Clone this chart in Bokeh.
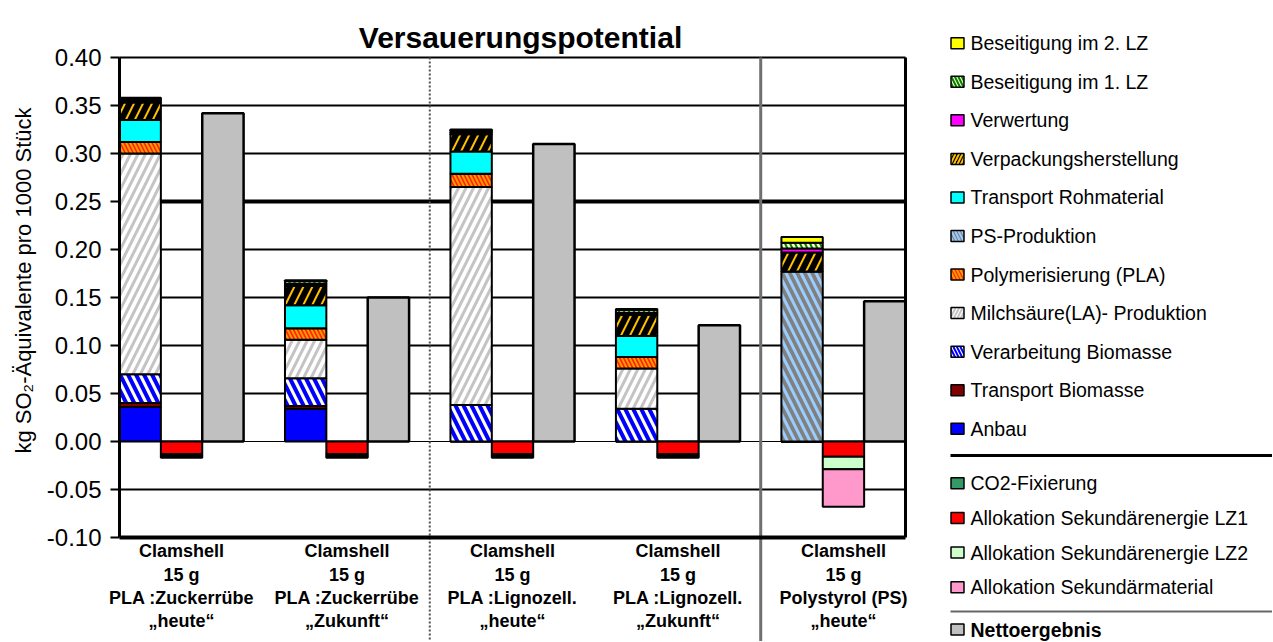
import math
from bokeh.plotting import figure
from bokeh.models import ColumnDataSource
from bokeh.layouts import row
from bokeh.embed import file_html
from bokeh.resources import INLINE
from bokeh.core.properties import value

FONT = "Liberation Sans"

# ---------------- data ----------------
title_text = "Versauerungspotential"
y_label = "kg SO₂-Äquivalente pro 1000 Stück"

group_label_lines = [
    ["Clamshell", "15 g", "PLA :Zuckerrübe", "„heute“"],
    ["Clamshell", "15 g", "PLA :Zuckerrübe", "„Zukunft“"],
    ["Clamshell", "15 g", "PLA :Lignozell.", "„heute“"],
    ["Clamshell", "15 g", "PLA :Lignozell.", "„Zukunft“"],
    ["Clamshell", "15 g", "Polystyrol (PS)", "„heute“"],
]

y_ticks = [-0.10, -0.05, 0.00, 0.05, 0.10, 0.15, 0.20, 0.25, 0.30, 0.35, 0.40]

# positive contributions, stacked bottom -> top
anbau                 = [0.036, 0.034, 0.000, 0.000, 0.000]
transport_biomasse    = [0.004, 0.003, 0.000, 0.000, 0.000]
verarbeitung_biomasse = [0.030, 0.029, 0.038, 0.034, 0.000]
milchsaeure           = [0.230, 0.040, 0.227, 0.042, 0.000]
polymerisierung       = [0.012, 0.012, 0.014, 0.012, 0.000]
ps_produktion         = [0.000, 0.000, 0.000, 0.000, 0.177]
transport_rohmaterial = [0.023, 0.024, 0.023, 0.022, 0.000]
verpackung            = [0.018, 0.020, 0.018, 0.022, 0.020]
verwertung            = [0.002, 0.002, 0.002, 0.002, 0.004]
beseitigung_1         = [0.002, 0.003, 0.002, 0.003, 0.006]
beseitigung_2         = [0.001, 0.001, 0.001, 0.001, 0.006]

# negative contributions (credits), stacked top -> bottom
co2_fixierung = [0.000, 0.000, 0.000, 0.000, 0.000]
alloc_lz1     = [-0.013, -0.013, -0.013, -0.013, -0.016]
alloc_lz2     = [-0.002, -0.002, -0.002, -0.002, -0.013]
alloc_sekmat  = [-0.002, -0.002, -0.002, -0.002, -0.039]

# net result
netto = [0.342, 0.150, 0.310, 0.121, 0.146]

pos_names = ["Anbau", "Transport Biomasse", "Verarbeitung Biomasse",
             "Milchsäure(LA)- Produktion", "Polymerisierung (PLA)", "PS-Produktion",
             "Transport Rohmaterial", "Verpackungsherstellung", "Verwertung",
             "Beseitigung im 1. LZ", "Beseitigung im 2. LZ"]
pos_values = [anbau, transport_biomasse, verarbeitung_biomasse, milchsaeure,
              polymerisierung, ps_produktion, transport_rohmaterial, verpackung,
              verwertung, beseitigung_1, beseitigung_2]

neg_names = ["CO2-Fixierung", "Allokation Sekundärenergie LZ1",
             "Allokation Sekundärenergie LZ2", "Allokation Sekundärmaterial"]
neg_values = [co2_fixierung, alloc_lz1, alloc_lz2, alloc_sekmat]

net_name = "Nettoergebnis"

# ---------------- styles ----------------
STYLE = {
    "Anbau": dict(fill="#0000ff", hatch=None, hc="black", hs=12, hw=1),
    "Transport Biomasse": dict(fill="#800000", hatch=None, hc="black", hs=12, hw=1),
    "Verarbeitung Biomasse": dict(fill="#ffffff", hatch="\\", hc="#0000ff", hs=16, hw=4),
    "Milchsäure(LA)- Produktion": dict(fill="#ffffff", hatch="/", hc="#c4c4c4", hs=15, hw=3),
    "Polymerisierung (PLA)": dict(fill="#ff2000", hatch="\\", hc="#ff9900", hs=8, hw=2),
    "PS-Produktion": dict(fill="#808080", hatch="\\", hc="#99ccff", hs=15, hw=3),
    "Transport Rohmaterial": dict(fill="#00ffff", hatch=None, hc="black", hs=12, hw=1),
    "Verpackungsherstellung": dict(fill="#000000", hatch="/", hc="#ffc000", hs=18, hw=2),
    "Verwertung": dict(fill="#ff00ff", hatch=None, hc="black", hs=12, hw=1),
    "Beseitigung im 1. LZ": dict(fill="#ffffcc", hatch="\\", hc="#008000", hs=10, hw=2),
    "Beseitigung im 2. LZ": dict(fill="#ffff00", hatch=None, hc="black", hs=12, hw=1),
    "CO2-Fixierung": dict(fill="#339966", hatch=None, hc="black", hs=12, hw=1),
    "Allokation Sekundärenergie LZ1": dict(fill="#ff0000", hatch=None, hc="black", hs=12, hw=1),
    "Allokation Sekundärenergie LZ2": dict(fill="#ccffcc", hatch=None, hc="black", hs=12, hw=1),
    "Allokation Sekundärmaterial": dict(fill="#ff99cc", hatch=None, hc="black", hs=12, hw=1),
    "Nettoergebnis": dict(fill="#c0c0c0", hatch=None, hc="black", hs=12, hw=1),
}

# ---------------- layout geometry (page pixels) ----------------
n_groups = len(group_label_lines)
slots = 4 * n_groups - 1                 # 3 bars + 1 gap per group
stack_x = [4 * i + 0.5 for i in range(n_groups)]
neg_x = [4 * i + 1.5 for i in range(n_groups)]
net_x = [4 * i + 2.5 for i in range(n_groups)]
center_x = [4 * i + 1.5 for i in range(n_groups)]

PAGE_W, PAGE_H = 1272, 641
AX_L, AX_R = 119.0, 905.0    # page x of plot left / right
TOP_PY = 57.0                # page y of 0.40
PXU = (AX_R - AX_L) / slots  # px per slot
PXY = 960.0                  # px per y unit
W1 = 907                     # main canvas width


def x_of_page(px):
    return (px - AX_L) / PXU


def y_of_page(py):
    return 0.40 - (py - TOP_PY) / PXY


p = figure(width=W1, height=PAGE_H,
           x_range=(x_of_page(0), x_of_page(W1)),
           y_range=(y_of_page(PAGE_H), y_of_page(0)),
           output_backend="svg", toolbar_location=None, title=None,
           x_axis_location=None, y_axis_location=None, min_border=0)
p.outline_line_color = None
p.xgrid.visible = False
p.ygrid.visible = False

# horizontal gridlines
grid_y = [t for t in y_ticks if t not in (-0.10, 0.00, 0.25)]
p.segment(x0=[0] * len(grid_y), y0=grid_y, x1=[slots] * len(grid_y), y1=grid_y,
          line_color="black", line_width=2)
p.segment(x0=[0], y0=[0.25], x1=[slots], y1=[0.25], line_color="black", line_width=4)
p.segment(x0=[0], y0=[0.0], x1=[slots], y1=[0.0], line_color="black", line_width=1)

# dividers between scenario blocks
p.segment(x0=[4 * 2 - 0.5], y0=[0.40], x1=[4 * 2 - 0.5], y1=[y_of_page(PAGE_H)],
          line_color="#505050", line_width=2, line_dash="2 2")
p.segment(x0=[4 * 4 - 0.5], y0=[0.40], x1=[4 * 4 - 0.5], y1=[y_of_page(PAGE_H)],
          line_color="#707070", line_width=3)

# positive stacks
pkeys = [f"p{i}" for i in range(len(pos_names))]
psrc = ColumnDataSource(dict(x=stack_x, **{k: v for k, v in zip(pkeys, pos_values)}))
p.vbar_stack(pkeys, x="x", width=1.0, source=psrc,
             fill_color=[STYLE[n]["fill"] for n in pos_names],
             hatch_pattern=[STYLE[n]["hatch"] for n in pos_names],
             hatch_color=[STYLE[n]["hc"] for n in pos_names],
             hatch_scale=[STYLE[n]["hs"] for n in pos_names],
             hatch_weight=[STYLE[n]["hw"] for n in pos_names],
             line_color="black", line_width=2)

# negative stacks
nkeys = [f"n{i}" for i in range(len(neg_names))]
nsrc = ColumnDataSource(dict(x=neg_x, **{k: v for k, v in zip(nkeys, neg_values)}))
p.vbar_stack(nkeys, x="x", width=1.0, source=nsrc,
             fill_color=[STYLE[n]["fill"] for n in neg_names],
             line_color="black", line_width=2)

# net bars
p.vbar(x=net_x, bottom=0, top=netto, width=1.0, fill_color=STYLE[net_name]["fill"],
       line_color="black", line_width=2.5)

# frame borders
p.segment(x0=[0], y0=[-0.10], x1=[0], y1=[0.40], line_color="black", line_width=3)
p.segment(x0=[slots], y0=[-0.10], x1=[slots], y1=[0.40], line_color="black", line_width=3)
p.segment(x0=[0], y0=[-0.10], x1=[slots], y1=[-0.10], line_color="black", line_width=4)

# y ticks and tick labels
p.segment(x0=[x_of_page(110)] * len(y_ticks), y0=y_ticks, x1=[0] * len(y_ticks), y1=y_ticks,
          line_color="black", line_width=2)
p.text(x=[x_of_page(101)] * len(y_ticks), y=y_ticks, text=[f"{t:.2f}" for t in y_ticks],
       text_font=value(FONT), text_font_size="24px", text_align="right",
       text_baseline="middle", text_color="black")

# y axis title
p.text(x=[x_of_page(23)], y=[y_of_page(280)], text=[y_label], angle=math.pi / 2,
       text_font=value(FONT), text_font_size="22px", text_align="center",
       text_baseline="middle", text_color="black")

# title
p.text(x=[x_of_page(520)], y=[y_of_page(37)], text=[title_text],
       text_font=value(FONT), text_font_size="30px", text_font_style="bold",
       text_align="center", text_baseline="alphabetic", text_color="black")

# category labels (4 lines per group)
line_py = [550, 574, 597, 620]
lx, ly, lt = [], [], []
for gi, lines in enumerate(group_label_lines):
    for li, t in enumerate(lines):
        lx.append(center_x[gi])
        ly.append(y_of_page(line_py[li]))
        lt.append(t)
p.text(x=lx, y=ly, text=lt, text_font=value(FONT), text_font_size="18px",
       text_font_style="bold", text_align="center", text_baseline="middle",
       text_color="black")

# ---------------- legend figure (page pixel coordinates) ----------------
lg = figure(width=PAGE_W - W1, height=PAGE_H, x_range=(W1, PAGE_W), y_range=(PAGE_H, 0),
            output_backend="svg", toolbar_location=None, title=None,
            x_axis_location=None, y_axis_location=None, min_border=0)
lg.outline_line_color = None
lg.xgrid.visible = False
lg.ygrid.visible = False

legend_top = list(reversed(pos_names))
entries = []
for i, n in enumerate(legend_top):
    entries.append((n, 42.7 + i * 38.56, "normal"))
for i, n in enumerate(neg_names):
    entries.append((n, 482.7 + i * 34.7, "normal"))
entries.append((net_name, 629.0, "bold"))

for n, yy, st in entries:
    s = STYLE[n]
    lg.rect(x=[957], y=[yy], width=13, height=11, fill_color=s["fill"],
            hatch_pattern=s["hatch"], hatch_color=s["hc"], hatch_scale=7,
            hatch_weight=2, line_color="black", line_width=1.5)
lg.text(x=[970] * len(entries), y=[e[1] for e in entries], text=[e[0] for e in entries],
        text_font=value(FONT), text_font_size="19.5px", text_align="left",
        text_baseline="middle", text_color="black",
        text_font_style=[e[2] for e in entries])

lg.segment(x0=[950], y0=[455], x1=[PAGE_W], y1=[455], line_color="black", line_width=3)
lg.segment(x0=[950], y0=[611], x1=[PAGE_W], y1=[611], line_color="#666666", line_width=2)

layout = row(p, lg)
open("out.html", "w").write(file_html(layout, INLINE))
